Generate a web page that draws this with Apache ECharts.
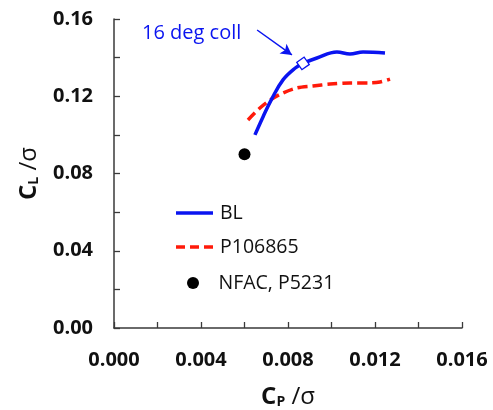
<!DOCTYPE html>
<html>
<head>
<meta charset="utf-8">
<script src="https://cdn.jsdelivr.net/npm/echarts@6/dist/echarts.min.js"></script>
<style>
  html, body { margin: 0; padding: 0; background: #fff; }
  #chart { width: 493px; height: 410px; }
</style>
</head>
<body>
<div id="chart"></div>
<script>
// Blade-loading results: lift vs power coefficient (both over solidity)
const blCp = [0.00648, 0.00685, 0.00726, 0.00777, 0.00832, 0.00869, 0.00933, 0.01025, 0.01085, 0.01145, 0.01246];
const blCl = [0.1000, 0.1093, 0.1188, 0.1285, 0.1345, 0.1370, 0.1398, 0.1429, 0.1419, 0.1429, 0.1424];

const pCp = [0.00616, 0.00671, 0.00726, 0.00777, 0.00841, 0.00915, 0.00993, 0.01085, 0.01177, 0.01223, 0.01269];
const pCl = [0.1077, 0.1139, 0.1186, 0.1217, 0.1243, 0.1253, 0.1263, 0.1269, 0.1269, 0.1274, 0.1289];

const nfacCp = [0.0060];
const nfacCl = [0.0900];

// 16 deg collective point on the BL curve, and the arrow pointing at it
const collPoint = [0.00869, 0.1370];
const arrowFrom = [0.00658, 0.1543];
const arrowTo = [0.00818, 0.1414];

const xTicks = { min: 0, max: 0.016, step: 0.004 };
const yTicks = { min: 0, max: 0.16, step: 0.04 };

const pairs = (xs, ys) => xs.map((x, i) => [x, ys[i]]);

const BLUE = '#0a14f0';
const RED = '#ff1a0a';
const AXIS = '#3a3a3a';
const FONT = '"Open Sans", "DejaVu Sans", sans-serif';

// legend glyphs: plain line and a three-dash line
const ICON_SOLID = 'path://M0,0h37v3.5h-37z';
const ICON_DASHED = 'path://M0,0h9v3.5h-9z M14,0h9v3.5h-9z M28,0h9v3.5h-9z';

const chart = echarts.init(document.getElementById('chart'), null, { renderer: 'canvas' });

const axisCommon = {
  axisLine: { lineStyle: { color: AXIS, width: 1.5 } },
  axisTick: { show: true, inside: true, length: 6, lineStyle: { color: AXIS, width: 1.3 } },
  minorTick: { show: true, splitNumber: 2, length: 6, lineStyle: { color: AXIS, width: 1.3 } },
  splitLine: { show: false },
  nameTextStyle: {
    fontFamily: FONT,
    rich: {
      b: { fontFamily: FONT, fontSize: 24, fontWeight: 'bold', color: '#111' },
      s: { fontFamily: FONT, fontSize: 14, fontWeight: 'bold', color: '#111', padding: [10, 0, 0, 0] },
      g: { fontFamily: FONT, fontSize: 24, color: '#111' }
    }
  }
};

const legendBase = {
  orient: 'vertical',
  left: 176,
  padding: 0,
  itemWidth: 37,
  itemHeight: 12,
  symbolKeepAspect: true,
  textStyle: { fontFamily: FONT, fontSize: 19.5, color: '#111', lineHeight: 24, padding: [0, 0, 0, 2] }
};

chart.setOption({
  animation: false,
  backgroundColor: '#fff',
  grid: { left: 114, right: 31, top: 19, bottom: 82, containLabel: false, outerBoundsMode: 'none' },
  xAxis: Object.assign({}, axisCommon, {
    type: 'value',
    min: xTicks.min, max: xTicks.max, interval: xTicks.step,
    name: '{b|C}{s|P}{g| /σ}',
    nameLocation: 'middle',
    nameGap: 57,
    axisLabel: {
      margin: 22,
      fontFamily: FONT, fontSize: 20, fontWeight: 'bold', color: '#111',
      formatter: v => v.toFixed(3)
    }
  }),
  yAxis: Object.assign({}, axisCommon, {
    type: 'value',
    min: yTicks.min, max: yTicks.max, interval: yTicks.step,
    name: '{b|C}{s|L}{g| /σ}',
    nameLocation: 'middle',
    nameRotate: 90,
    nameGap: 73,
    axisLabel: {
      margin: 21,
      fontFamily: FONT, fontSize: 20, fontWeight: 'bold', color: '#111',
      formatter: v => v.toFixed(2)
    }
  }),
  legend: [
    Object.assign({}, legendBase, { top: 201, data: [{ name: 'BL', icon: ICON_SOLID }] }),
    Object.assign({}, legendBase, { top: 235, data: [{ name: 'P106865', icon: ICON_DASHED }] }),
    Object.assign({}, legendBase, { top: 271, left: 187, data: [{ name: 'NFAC, P5231', icon: 'circle' }] })
  ],
  graphic: [
    {
      type: 'text',
      left: 142,
      top: 23,
      style: { text: '16 deg coll', fontFamily: FONT, fontSize: 20, fill: BLUE }
    }
  ],
  series: [
    {
      name: 'P106865',
      type: 'line',
      data: pairs(pCp, pCl),
      smooth: 0.3,
      symbol: 'none',
      lineStyle: { color: RED, width: 3.5, type: [10, 5] },
      itemStyle: { color: RED },
      z: 2
    },
    {
      name: 'BL',
      type: 'line',
      data: pairs(blCp, blCl),
      smooth: 0.4,
      symbol: 'none',
      lineStyle: { color: BLUE, width: 3.5 },
      itemStyle: { color: BLUE },
      z: 3,
      markLine: {
        silent: true,
        symbol: ['none', 'arrow'],
        symbolSize: [9, 11],
        lineStyle: { color: BLUE, width: 1.5, type: 'solid' },
        label: { show: false },
        data: [[{ coord: arrowFrom }, { coord: arrowTo }]]
      }
    },
    {
      name: 'NFAC, P5231',
      type: 'scatter',
      data: pairs(nfacCp, nfacCl),
      symbol: 'circle',
      symbolSize: 12,
      itemStyle: { color: '#000', opacity: 1 },
      z: 4
    },
    {
      name: '16 deg coll',
      type: 'scatter',
      data: [collPoint],
      symbol: 'rect',
      symbolSize: 9,
      symbolRotate: 35,
      itemStyle: { color: '#fff', borderColor: BLUE, borderWidth: 1.3, opacity: 1 },
      z: 5
    }
  ]
});
</script>
</body>
</html>
